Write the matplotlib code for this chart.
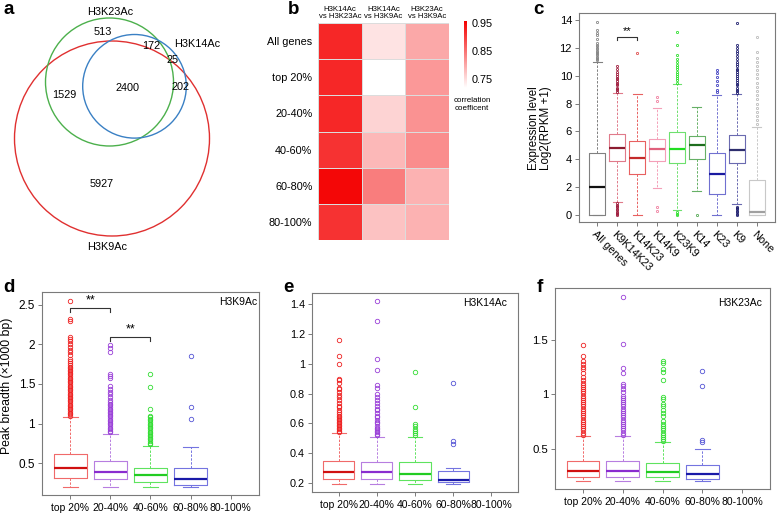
import numpy as np
import matplotlib
matplotlib.use('Agg')
import matplotlib.pyplot as plt
from matplotlib.patches import Circle
from matplotlib.colors import LinearSegmentedColormap, Normalize

plt.rcParams['font.family'] = ['Liberation Sans', 'DejaVu Sans']

# ---------------- data ----------------
venn_names = ["H3K23Ac", "H3K14Ac", "H3K9Ac"]
venn_counts = {"K23 only": 513, "K23+K14": 172, "K14+K9 edge": 25, "K14+K9": 202,
               "all": 2400, "K23+K9": 1529, "K9 only": 5927}

heat_cols = ["H3K14Ac\nvs H3K23Ac", "H3K14Ac\nvs H3K9Ac", "H3K23Ac\nvs H3K9Ac"]
heat_rows = ["All genes", "top 20%", "20-40%", "40-60%", "60-80%", "80-100%"]
heat_col1 = [0.92, 0.92, 0.92, 0.91, 0.95, 0.91]
heat_col2 = [0.745, 0.715, 0.76, 0.785, 0.84, 0.775]
heat_col3 = [0.80, 0.815, 0.82, 0.825, 0.79, 0.79]
cbar_ticks = [0.75, 0.85, 0.95]

c_labels = ["All genes", "K9K14K23", "K14K23", "K14K9", "K23K9", "K14", "K23", "K9", "None"]
c_q1 = [0.0, 3.87, 2.94, 3.90, 3.70, 4.02, 1.50, 3.70, 0.0]
c_med = [2.0, 4.84, 4.10, 4.74, 4.76, 5.00, 2.94, 4.67, 0.2]
c_q3 = [4.43, 5.80, 5.30, 5.45, 5.93, 5.70, 4.43, 5.74, 2.5]
c_lo = [0.0, 0.95, 0.0, 1.94, 0.36, 1.75, 0.0, 0.80, 0.0]
c_hi = [11.0, 8.78, 8.69, 7.65, 9.38, 7.73, 8.59, 8.66, 6.3]
c_fliers = [
    [11.1, 11.2, 11.3, 11.35, 11.45, 11.55, 11.6, 11.7, 11.8, 11.9, 12.0, 12.1, 12.2, 12.35, 12.6, 12.9, 13.1, 13.3, 13.85],
    [8.85, 8.95, 9.05, 9.15, 9.3, 9.4, 9.5, 9.6, 9.75, 9.85, 10.0, 10.15, 10.3, 10.5, 10.7,
     0.85, 0.75, 0.65, 0.55, 0.45, 0.35, 0.25, 0.15, 0.05, 0.0],
    [11.6],
    [8.15, 8.45, 0.3, 0.55],
    [9.5, 9.7, 9.85, 10.0, 10.1, 10.3, 10.45, 10.6, 10.8, 11.0, 11.2, 11.5, 12.2, 13.15, 0.0, 0.1, 0.2],
    [0.0],
    [8.8, 9.0, 9.3, 9.6, 9.9, 10.2, 10.4],
    [8.75, 8.9, 9.0, 9.15, 9.3, 9.4, 9.55, 9.7, 9.8, 9.95, 10.1, 10.25, 10.4, 10.5, 10.7, 10.85,
     11.0, 11.2, 11.4, 11.6, 11.8, 12.0, 12.2, 13.8, 0.0, 0.1, 0.2, 0.3, 0.4, 0.5, 0.6],
    [6.5, 6.8, 7.1, 7.4, 7.7, 8.0, 8.3, 8.6, 8.9, 9.2, 9.5, 9.8, 10.1, 10.4, 10.7, 11.0, 11.3, 11.7, 12.8],
]
c_sig = (2, 3, 12.8)

grp_labels = ["top 20%", "20-40%", "40-60%", "60-80%", "80-100%"]

d_q1 = [0.32, 0.30, 0.26, 0.225]
d_med = [0.44, 0.39, 0.35, 0.30]
d_q3 = [0.62, 0.525, 0.446, 0.446]
d_lo = [0.196, 0.196, 0.196, 0.196]
d_hi = [1.08, 0.87, 0.72, 0.70]
d_fliers = [
    [1.10, 1.12, 1.14, 1.16, 1.18, 1.20, 1.22, 1.24, 1.26, 1.28, 1.30, 1.32, 1.34, 1.36, 1.38, 1.40,
     1.42, 1.44, 1.46, 1.48, 1.50, 1.52, 1.54, 1.56, 1.58, 1.60, 1.62, 1.64, 1.66, 1.68, 1.70, 1.72,
     1.74, 1.76, 1.79, 1.82, 1.86, 1.90, 1.93, 1.97, 2.00, 2.04, 2.07, 2.09, 2.29, 2.32, 2.55],
    [0.89, 0.91, 0.93, 0.95, 0.97, 0.99, 1.01, 1.03, 1.05, 1.07, 1.09, 1.11, 1.13, 1.15, 1.17, 1.19,
     1.21, 1.23, 1.25, 1.27, 1.30, 1.33, 1.37, 1.40, 1.44, 1.48, 1.58, 1.60, 1.62, 1.90, 1.95, 1.99],
    [0.74, 0.76, 0.78, 0.80, 0.82, 0.84, 0.86, 0.88, 0.90, 0.92, 0.94, 0.96, 0.98, 1.00, 1.02, 1.04,
     1.06, 1.08, 1.10, 1.19, 1.46, 1.63],
    [1.06, 1.21, 1.85],
]
d_sig = [(1, 2, 2.46), (2, 3, 2.09)]

e_q1 = [0.227, 0.227, 0.218, 0.204]
e_med = [0.276, 0.272, 0.263, 0.218]
e_q3 = [0.351, 0.344, 0.339, 0.278]
e_lo = [0.197, 0.197, 0.197, 0.197]
e_hi = [0.533, 0.508, 0.508, 0.301]
e_fliers = [
    [0.54, 0.55, 0.56, 0.57, 0.58, 0.59, 0.60, 0.61, 0.62, 0.63, 0.64, 0.65, 0.66, 0.68, 0.69, 0.71,
     0.72, 0.74, 0.76, 0.78, 0.79, 0.81, 0.83, 0.84, 0.87, 0.89, 0.90, 1.00, 1.05, 1.16],
    [0.52, 0.53, 0.54, 0.55, 0.56, 0.57, 0.58, 0.60, 0.61, 0.62, 0.64, 0.65, 0.67, 0.69, 0.70, 0.72,
     0.74, 0.76, 0.78, 0.80, 0.84, 0.86, 0.96, 1.03, 1.29, 1.42],
    [0.52, 0.535, 0.55, 0.565, 0.58, 0.595, 0.71, 0.945],
    [0.465, 0.48, 0.87],
]

f_q1 = [0.243, 0.243, 0.243, 0.225]
f_med = [0.30, 0.30, 0.292, 0.274]
f_q3 = [0.39, 0.39, 0.368, 0.35]
f_lo = [0.206, 0.206, 0.206, 0.206]
f_hi = [0.622, 0.62, 0.56, 0.50]
f_fliers = [
    [0.63, 0.65, 0.67, 0.69, 0.71, 0.73, 0.75, 0.77, 0.79, 0.81, 0.83, 0.85, 0.87, 0.89, 0.91, 0.93,
     0.95, 0.97, 0.99, 1.01, 1.03, 1.05, 1.07, 1.09, 1.11, 1.13, 1.16, 1.20, 1.23, 1.25, 1.28, 1.31,
     1.35, 1.45],
    [0.63, 0.65, 0.67, 0.69, 0.71, 0.73, 0.75, 0.77, 0.79, 0.81, 0.83, 0.85, 0.87, 0.89, 0.91, 0.93,
     0.95, 0.97, 0.99, 1.02, 1.05, 1.08, 1.10, 1.20, 1.24, 1.46, 1.89],
    [0.57, 0.59, 0.61, 0.63, 0.65, 0.67, 0.69, 0.71, 0.73, 0.76, 0.80, 0.83, 0.86, 0.89, 0.91, 0.96,
     0.98, 1.13, 1.21, 1.23, 1.29, 1.31],
    [0.56, 0.58, 1.08, 1.22],
]

# ---------------- figure ----------------
W, H = 778, 515
fig = plt.figure(figsize=(W / 100, H / 100), dpi=100)


def px_axes(l, t, r, b):
    return fig.add_axes([l / W, 1 - b / H, (r - l) / W, (b - t) / H])


def ftext(x, y, s, **kw):
    fig.text(x / W, 1 - y / H, s, **kw)


# panel letters
for lab, (x, y) in zip("abcdef", [(4, 10), (288, 10), (533, 10), (3, 288), (283, 288), (537, 288)]):
    ftext(x, y, lab, fontsize=13.5, fontweight='bold', ha='left', va='center')

# ---------------- a: Venn ----------------
axa = px_axes(0, 0, 260, 260)
axa.set_xlim(0, 260)
axa.set_ylim(260, 0)
axa.axis('off')
axa.add_patch(Circle((112, 138.5), 97.5, fill=False, ec='#e03030', lw=1.0))
axa.add_patch(Circle((109.5, 82), 64, fill=False, ec='#4cb04c', lw=1.0))
axa.add_patch(Circle((134.5, 86.3), 51.8, fill=False, ec='#3a80c4', lw=1.0))
venn_pos = {"K23 only": (103, 32), "K23+K14": (151, 46), "K14+K9 edge": (173, 60),
            "K14+K9": (181, 87), "all": (128, 88), "K23+K9": (64, 95), "K9 only": (102, 184)}
for k, v in venn_counts.items():
    axa.text(*venn_pos[k], str(v), ha='center', va='center', fontsize=7.8)
axa.text(110, 12, venn_names[0], ha='center', va='center', fontsize=7.8)
axa.text(197, 44, venn_names[1], ha='center', va='center', fontsize=7.8)
axa.text(107, 247, venn_names[2], ha='center', va='center', fontsize=7.8)

# ---------------- b: heatmap ----------------
axb = px_axes(318, 23, 449, 240)
vals = np.array([heat_col1, heat_col2, heat_col3]).T
cmap = LinearSegmentedColormap.from_list('wr', ['#ffffff', '#f40000'])
norm = Normalize(vmin=0.718, vmax=0.957)
mesh = axb.pcolormesh(vals, cmap=cmap, norm=norm, edgecolors='#dcdcdc', linewidth=0.5)
axb.set_xlim(0, 3)
axb.set_ylim(len(heat_rows), 0)
axb.set_yticks(np.arange(len(heat_rows)) + 0.5)
axb.set_yticklabels(heat_rows, fontsize=7.8)
axb.set_xticks([])
axb.tick_params(axis='y', length=0, pad=4)
for s in axb.spines.values():
    s.set_visible(False)
for i, c in enumerate(heat_cols):
    axb.text(i + 0.5, -0.08, c, ha='center', va='bottom', fontsize=5.6, linespacing=1.1)
cax = px_axes(464, 21, 467, 88)
cb = fig.colorbar(mesh, cax=cax, ticks=cbar_ticks)
cb.outline.set_visible(False)
cax.tick_params(length=0, labelsize=7.8, pad=3)
cax.set_yticklabels(["%.2f" % t for t in cbar_ticks])
ftext(472, 104, "correlation\ncoefficent", ha='center', va='center', fontsize=5.8, linespacing=1.2)


def style_axes(ax, ylab_size, xlab_size):
    for s in ax.spines.values():
        s.set_color('#7a7a7a')
        s.set_linewidth(0.8)
    ax.tick_params(direction='out', length=3, width=0.6, color='#666666', pad=2)
    ax.tick_params(axis='y', labelsize=ylab_size)
    ax.tick_params(axis='x', labelsize=xlab_size)


def draw_boxes(ax, q1, med, q3, lo, hi, fliers, box_c, med_c, fl_c, width, capw, ms):
    for i in range(len(q1)):
        st = dict(med=med[i], q1=q1[i], q3=q3[i], whislo=lo[i], whishi=hi[i],
                  fliers=np.array(fliers[i]))
        ax.bxp([st], positions=[i + 1], widths=width, capwidths=capw, manage_ticks=False,
               boxprops=dict(color=box_c[i], lw=0.8),
               medianprops=dict(color=med_c[i], lw=1.6),
               whiskerprops=dict(color=box_c[i], lw=0.7, ls=(0, (2.5, 1.5))),
               capprops=dict(color=box_c[i], lw=0.8),
               flierprops=dict(marker='o', mfc='none', mec=fl_c[i], ms=ms, mew=0.6, ls='none'))


# ---------------- c: expression boxplot ----------------
axc = px_axes(579, 13, 775, 222)
c_box = ['#808080', '#e07a8a', '#e86060', '#f4a0b8', '#6ee06e', '#66b066', '#7070d0', '#6a6ab0', '#c8c8c8']
c_medc = ['#111111', '#8c1c30', '#c42a2a', '#e0607c', '#22dd22', '#1e6e1e', '#1a1aa0', '#2e2e6e', '#a0a0a0']
c_flc = ['#888888', '#a02040', '#e05050', '#f080a0', '#30e030', '#55aa55', '#4040c0', '#202070', '#bbbbbb']
draw_boxes(axc, c_q1, c_med, c_q3, c_lo, c_hi, c_fliers, c_box, c_medc, c_flc, 0.8, 0.45, 1.6)
axc.set_xlim(0.1, 9.9)
axc.set_ylim(-0.5, 14.5)
axc.set_yticks(range(0, 15, 2))
axc.set_xticks(range(1, 10))
axc.set_xticklabels(c_labels, rotation=-45, ha='left', va='top', rotation_mode='anchor')
style_axes(axc, 8, 7.8)
axc.plot([c_sig[0], c_sig[0], c_sig[1], c_sig[1]], [c_sig[2] - 0.25, c_sig[2], c_sig[2], c_sig[2] - 0.25],
         color='#333333', lw=0.8)
axc.text((c_sig[0] + c_sig[1]) / 2, c_sig[2] + 0.02, '**', ha='center', va='bottom', fontsize=8)
ftext(540, 128, "Expression level\nLog2(RPKM +1)", rotation=90, ha='center', va='center',
      fontsize=8.3, linespacing=1.1)

# ---------------- d, e, f ----------------
g_box = ['#f06a6a', '#b77ee0', '#5fe35f', '#7474e0']
g_med = ['#d01010', '#8a2ccf', '#22cc22', '#1a1aa8']
g_fl = ['#ee2222', '#9a40d8', '#33dd33', '#5555d5']


def group_panel(rect, q1, med, q3, lo, hi, fl, ylim, yticks, title, tx, ty, ysize):
    ax = px_axes(*rect)
    draw_boxes(ax, q1, med, q3, lo, hi, fl, g_box, g_med, g_fl, 0.82, 0.37, 3.2)
    ax.set_xlim(0.3, 5.7)
    ax.set_ylim(*ylim)
    ax.set_xticks(range(1, 6))
    ax.set_xticklabels(grp_labels)
    ax.set_yticks(yticks)
    ax.set_yticklabels(['{:g}'.format(t) for t in yticks])
    style_axes(ax, ysize, 7.5)
    ax.tick_params(axis='x', pad=3)
    ax.text(tx, ty, title, transform=ax.transAxes, ha='right', va='center', fontsize=7.5)
    return ax


axd = group_panel((42, 292, 259, 495), d_q1, d_med, d_q3, d_lo, d_hi, d_fliers,
                  (0.1, 2.66), [0.5, 1, 1.5, 2, 2.5], "H3K9Ac", 0.99, 0.95, 8.5)
for a, b, y in d_sig:
    axd.plot([a, a, b, b], [y - 0.05, y, y, y - 0.05], color='#333333', lw=0.8)
    axd.text((a + b) / 2, y + 0.02, '**', ha='center', va='bottom', fontsize=9)
ftext(7, 386, "Peak breadth (\u00d71000 bp)", rotation=90, ha='center', va='center', fontsize=8.8)

group_panel((312, 293, 518, 492), e_q1, e_med, e_q3, e_lo, e_hi, e_fliers,
            (0.14, 1.475), [0.2, 0.4, 0.6, 0.8, 1.0, 1.2, 1.4], "H3K14Ac", 0.947, 0.95, 7.8)

group_panel((555, 288, 770, 489), f_q1, f_med, f_q3, f_lo, f_hi, f_fliers,
            (0.133, 1.977), [0.5, 1.0, 1.5], "H3K23Ac", 0.963, 0.925, 8.2)

fig.savefig('out.png', dpi=100)
